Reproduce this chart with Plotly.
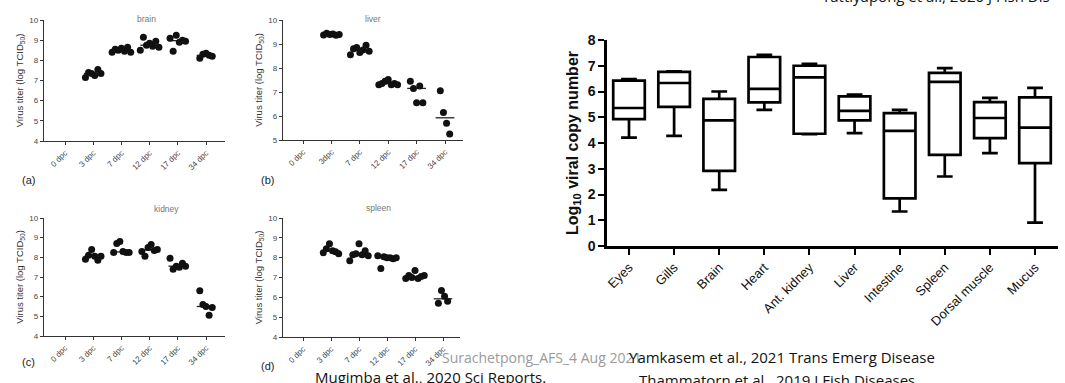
import plotly.graph_objects as go
import numpy as np

W, H = 1065, 383

# ---------------- data ----------------
dpc_labels = ["0 dpc", "3 dpc", "7 dpc", "12 dpc", "17 dpc", "34 dpc"]
liver_labels = ["0 dpc", "3dpc", "7 dpc", "12 dpc", "17 dpc", "34 dpc"]

brain_vals = [
    [],
    [7.15, 7.4, 7.35, 7.25, 7.55, 7.35],
    [8.4, 8.55, 8.5, 8.6, 8.45, 8.65, 8.4],
    [8.5, 9.15, 8.75, 8.85, 8.7, 8.95, 8.65],
    [9.1, 8.45, 9.25, 8.9, 9.0, 8.95],
    [8.1, 8.3, 8.35, 8.25, 8.2],
]
liver_vals = [
    [],
    [9.38, 9.45, 9.4, 9.42, 9.36, 9.4],
    [8.55, 8.8, 8.85, 8.65, 8.75, 8.95, 8.7],
    [7.3, 7.35, 7.45, 7.52, 7.3, 7.35, 7.3],
    [7.45, 7.15, 6.55, 7.25, 6.55],
    [7.05, 6.15, 5.7, 5.25],
]
kidney_vals = [
    [],
    [7.9, 8.1, 8.4, 8.05, 7.85, 8.05],
    [8.25, 8.7, 8.8, 8.3, 8.25, 8.25],
    [8.3, 8.05, 8.5, 8.65, 8.35, 8.4],
    [7.95, 7.4, 7.55, 7.5, 7.7, 7.55],
    [6.3, 5.6, 5.5, 5.05, 5.45],
]
spleen_vals = [
    [],
    [8.25, 8.45, 8.7, 8.35, 8.3, 8.2],
    [7.85, 8.15, 8.2, 8.7, 8.15, 8.35, 8.1],
    [8.1, 7.45, 8.05, 8.0, 8.0, 7.95, 8.0],
    [6.95, 7.1, 7.0, 7.35, 6.95, 7.05, 7.1],
    [5.7, 6.35, 6.05, 5.8],
]

organs = ["Eyes", "Gills", "Brain", "Heart", "Ant. kidney", "Liver",
          "Intestine", "Spleen", "Dorsal muscle", "Mucus"]
box_lower = [4.21, 4.28, 2.18, 5.29, 4.34, 4.38, 1.34, 2.70, 3.61, 0.91]
box_q1 = [4.93, 5.40, 2.92, 5.58, 4.36, 4.88, 1.85, 3.54, 4.19, 3.22]
box_median = [5.36, 6.33, 4.88, 6.10, 6.55, 5.25, 4.47, 6.37, 4.97, 4.60]
box_q3 = [6.42, 6.76, 5.71, 7.34, 7.00, 5.81, 5.16, 6.72, 5.59, 5.77]
box_upper = [6.48, 6.78, 6.00, 7.42, 7.07, 5.88, 5.29, 6.91, 5.75, 6.14]

# ---------------- helpers ----------------
def pxx(p):
    return p / W

def pxy(p):
    return 1 - p / H

panels = [
    dict(title="brain", vals=brain_vals, labels=dpc_labels, x0=44, x1=225, ytop=20, ybot=141,
         ymin=4, ymax=10, c0=65, c5=206, txy=(135, 12), letter="(a)", lxy=(20, 180)),
    dict(title="liver", vals=liver_vals, labels=liver_labels, x0=283, x1=463, ytop=20, ybot=140,
         ymin=5, ymax=10, c0=303, c5=445, txy=(373, 12), letter="(b)", lxy=(259, 180)),
    dict(title="kidney", vals=kidney_vals, labels=dpc_labels, x0=44, x1=225, ytop=218, ybot=336,
         ymin=4, ymax=10, c0=65, c5=206, txy=(152, 209), letter="(c)", lxy=(20, 370)),
    dict(title="spleen", vals=spleen_vals, labels=dpc_labels, x0=283, x1=460, ytop=218, ybot=337,
         ymin=4, ymax=10, c0=303, c5=443, txy=(378, 208), letter="(d)", lxy=(259, 374)),
]

fig = go.Figure()
annotations = []
layout_axes = {}

for k, p in enumerate(panels, start=1):
    xa = "x" if k == 1 else f"x{k}"
    ya = "y" if k == 1 else f"y{k}"
    xs, ys = [], []
    mx, my = [], []
    for i, grp in enumerate(p["vals"]):
        n = len(grp)
        for j, v in enumerate(grp):
            xs.append(i + (j - (n - 1) / 2) * 0.11)
            ys.append(v)
        if n:
            med = float(np.median(grp))
            mx += [i - 0.33, i + 0.33, None]
            my += [med, med, None]
    fig.add_trace(go.Scatter(x=mx, y=my, mode="lines", line=dict(color="#222", width=1.3),
                             xaxis=xa, yaxis=ya, showlegend=False, hoverinfo="skip"))
    fig.add_trace(go.Scatter(x=xs, y=ys, mode="markers", marker=dict(color="#111", size=7),
                             xaxis=xa, yaxis=ya, showlegend=False))
    step = (p["c5"] - p["c0"]) / 5
    xr = [-(p["c0"] - p["x0"]) / step, 5 + (p["x1"] - p["c5"]) / step]
    axkey = "xaxis" if k == 1 else f"xaxis{k}"
    aykey = "yaxis" if k == 1 else f"yaxis{k}"
    layout_axes[axkey] = dict(
        domain=[pxx(p["x0"]), pxx(p["x1"])], anchor=ya, range=xr,
        tickvals=list(range(6)), ticktext=p["labels"], tickangle=-45,
        showline=True, linecolor="#333", linewidth=1.3, ticks="outside", ticklen=3,
        tickcolor="#333", tickfont=dict(size=8, color="#444", family="Liberation Sans"),
        showgrid=False, zeroline=False, automargin=False)
    layout_axes[aykey] = dict(
        domain=[pxy(p["ybot"]), pxy(p["ytop"])], anchor=xa, range=[p["ymin"], p["ymax"]],
        dtick=1, showline=True, linecolor="#333", linewidth=1.3, ticks="outside", ticklen=3,
        tickcolor="#333", tickfont=dict(size=8, color="#444", family="Liberation Sans"),
        showgrid=False, zeroline=False, automargin=False,
        title=dict(text="Virus titer (log TCID<sub>50</sub>)", standoff=4,
                   font=dict(size=9.5, color="#333", family="Liberation Sans")))
    annotations.append(dict(text=p["title"], x=pxx(p["txy"][0]), y=pxy(p["txy"][1]),
                            xref="paper", yref="paper", showarrow=False,
                            font=dict(size=8.5, color="#777", family="Liberation Sans")))
    annotations.append(dict(text=p["letter"], x=pxx(p["lxy"][0]), y=pxy(p["lxy"][1]),
                            xref="paper", yref="paper", showarrow=False,
                            font=dict(size=11, color="#222", family="Liberation Sans")))

# ---------------- box plot ----------------
fig.add_trace(go.Box(
    x=organs, q1=box_q1, median=box_median, q3=box_q3,
    lowerfence=box_lower, upperfence=box_upper,
    line=dict(color="black", width=2.7), fillcolor="white",
    width=0.7, whiskerwidth=0.5, boxpoints=False,
    xaxis="x5", yaxis="y5", showlegend=False))

step5 = (1035 - 629) / 9
layout_axes["xaxis5"] = dict(
    domain=[pxx(607), pxx(1058)], anchor="y5", type="category",
    range=[-(629 - 607) / step5, 9 + (1058 - 1035) / step5],
    tickangle=-45, showline=True, linecolor="black", linewidth=2.5,
    ticks="outside", ticklen=6, tickwidth=2, tickcolor="black",
    tickfont=dict(size=13, color="#111", family="Liberation Sans"),
    showgrid=False, zeroline=False, automargin=False)
layout_axes["yaxis5"] = dict(
    domain=[pxy(246), pxy(40)], anchor="x5", range=[0, 8], dtick=1,
    showline=True, linecolor="black", linewidth=2.5,
    ticks="outside", ticklen=6, tickwidth=2, tickcolor="black",
    tickfont=dict(size=14, color="#111", family="Liberation Sans", weight="bold"),
    showgrid=False, zeroline=False, automargin=False,
    title=dict(text="Log<sub>10</sub> viral copy number", standoff=6,
               font=dict(size=16, color="#111", family="Liberation Sans", weight="bold")))

# ---------------- reference texts ----------------
txt_font = dict(size=15, color="#111", family="Open Sans")
annotations += [
    dict(text="Tattiyapong et al., 2020 J Fish Dis", x=pxx(820), y=pxy(-4), xanchor="left",
         yanchor="middle", xref="paper", yref="paper", showarrow=False, font=txt_font),
    dict(text="Surachetpong_AFS_4 Aug 2021", x=pxx(440), y=pxy(357), xanchor="left",
         yanchor="middle", xref="paper", yref="paper", showarrow=False,
         font=dict(size=14, color="#9a9a9a", family="Open Sans")),
    dict(text="Yamkasem et al., 2021 Trans Emerg Disease", x=pxx(627), y=pxy(357), xanchor="left",
         yanchor="middle", xref="paper", yref="paper", showarrow=False, font=txt_font),
    dict(text="Thammatorn et al., 2019 J Fish Diseases", x=pxx(637), y=pxy(380), xanchor="left",
         yanchor="middle", xref="paper", yref="paper", showarrow=False, font=txt_font),
    dict(text="Mugimba et al., 2020 Sci Reports.", x=pxx(313), y=pxy(377), xanchor="left",
         yanchor="middle", xref="paper", yref="paper", showarrow=False, font=txt_font),
]

fig.update_layout(
    width=W, height=H, margin=dict(l=0, r=0, t=0, b=0, autoexpand=False),
    paper_bgcolor="white", plot_bgcolor="white", hovermode=False,
    annotations=annotations, **layout_axes)

fig.write_html("out.html", config={"displayModeBar": False},
               post_script="document.body.style.margin='0';document.body.style.overflow='hidden';")
